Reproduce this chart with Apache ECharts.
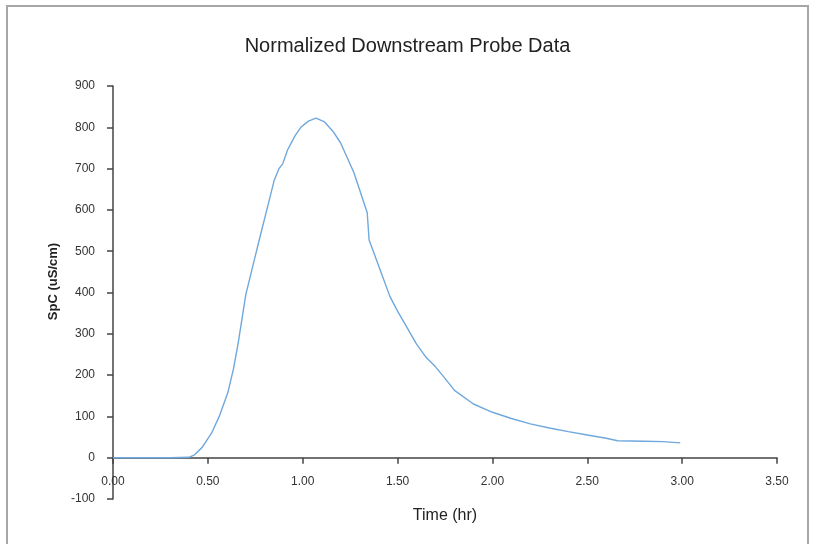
<!DOCTYPE html>
<html>
<head>
<meta charset="utf-8">
<script src="https://cdn.jsdelivr.net/npm/echarts@6/dist/echarts.min.js"></script>
<style>
html, body { margin: 0; padding: 0; background: #fff; }
#frame { position: absolute; left: 6px; top: 5px; width: 803px; height: 600px; border: 2px solid #a6a6a6; box-sizing: border-box; }
#main { position: absolute; left: 0; top: 0; width: 815px; height: 544px; }
</style>
</head>
<body>
<div id="frame"></div>
<div id="main"></div>
<script>
var chart = echarts.init(document.getElementById('main'));

// time (hr) and normalized specific conductance (uS/cm)
var timeHr = [0, 0.1, 0.2, 0.3, 0.4, 0.43, 0.47, 0.52, 0.56, 0.605, 0.635, 0.66, 0.70, 0.74, 0.78, 0.82, 0.85, 0.875, 0.895, 0.92, 0.96, 0.99, 1.03, 1.07, 1.115, 1.16, 1.2, 1.27, 1.33, 1.34, 1.35, 1.40, 1.46, 1.5, 1.55, 1.6, 1.65, 1.7, 1.75, 1.8, 1.9, 2.0, 2.1, 2.2, 2.3, 2.4, 2.5, 2.6, 2.66, 2.8, 2.9, 2.99];
var spc = [0, 0, 0, 0, 1, 7, 25, 60, 100, 157, 215, 278, 395, 470, 544, 617, 672, 700, 712, 745, 780, 800, 815, 822, 813, 790, 762, 690, 607, 593, 527, 465, 390, 355, 315, 275, 243, 220, 192, 163, 130, 110, 95, 82, 72, 63, 55, 47, 41, 40, 39, 36];

var points = timeHr.map(function(t, i) { return [t, spc[i]]; });

var gridTop = 86, gridBottom = 45;
var yMin = -100, yMax = 900;
// x axis sits on y = 0, so shift it up from the grid bottom
var plotH = 544 - gridTop - gridBottom;
var zeroOffset = -plotH * (0 - yMin) / (yMax - yMin);

var option = {
    backgroundColor: 'transparent',
    title: {
        text: 'Normalized Downstream Probe Data',
        left: 'center',
        top: 31,
        textStyle: { fontFamily: 'Liberation Sans', fontSize: 20, fontWeight: 'normal', color: '#222' }
    },
    grid: { left: 113, right: 38, top: gridTop, bottom: gridBottom, outerBoundsMode: 'none' },
    xAxis: {
        type: 'value',
        min: 0,
        max: 3.5,
        interval: 0.5,
        offset: zeroOffset,
        name: 'Time (hr)',
        nameLocation: 'middle',
        nameGap: 50,
        nameTextStyle: { fontFamily: 'Liberation Sans', fontSize: 16, color: '#222' },
        axisLine: { onZero: false, lineStyle: { color: '#444', width: 1.5 } },
        axisTick: { length: 6, lineStyle: { color: '#444', width: 1.5 } },
        axisLabel: {
            margin: 18,
            fontFamily: 'Liberation Sans', fontSize: 12, color: '#333',
            formatter: function(v) { return v.toFixed(2); }
        },
        splitLine: { show: false }
    },
    yAxis: {
        type: 'value',
        min: yMin,
        max: yMax,
        interval: 100,
        name: 'SpC (uS/cm)',
        nameLocation: 'middle',
        nameGap: 46,
        nameTextStyle: { fontFamily: 'Liberation Sans', fontSize: 13, fontWeight: 'bold', color: '#222', padding: [0, 0, 0, 22] },
        axisLine: { show: true, lineStyle: { color: '#444', width: 1.5 } },
        axisTick: { show: true, length: 6, lineStyle: { color: '#444', width: 1.5 } },
        axisLabel: { margin: 18, fontFamily: 'Liberation Sans', fontSize: 12, color: '#333' },
        splitLine: { show: false }
    },
    series: [{
        type: 'line',
        data: points,
        showSymbol: false,
        symbol: 'none',
        lineStyle: { color: '#6fa8dc', width: 1.4 },
        animation: false
    }]
};
chart.setOption(option);
</script>
</body>
</html>
